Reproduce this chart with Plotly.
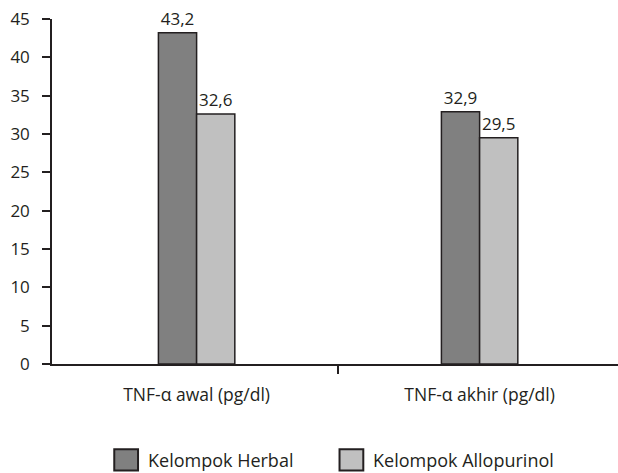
import plotly.graph_objects as go

categories = ["TNF-α awal (pg/dl)", "TNF-α akhir (pg/dl)"]
herbal = [43.2, 32.9]
allopurinol = [32.6, 29.5]
series_names = ["Kelompok Herbal", "Kelompok Allopurinol"]
series_colors = ["#808080", "#c0c0c0"]
y_ticks = [0, 5, 10, 15, 20, 25, 30, 35, 40, 45]

ink = "#231f20"
font = "Open Sans, Noto Sans, sans-serif"
fs = 17

xpos = list(range(len(categories)))

fig = go.Figure()
for name, vals, col in zip(series_names, [herbal, allopurinol], series_colors):
    fig.add_trace(go.Bar(x=xpos, y=vals, name=name,
                         marker=dict(color=col, line=dict(color=ink, width=1.5)),
                         texttemplate="%{y:.1f}", textposition="outside",
                         textfont=dict(size=fs, color=ink), cliponaxis=False))

# legend drawn as paper-space swatches + labels (large squares like the reference)
legend_x = [0.110, 0.508]   # paper fractions for the swatch left edges
for name, col, lx in zip(series_names, series_colors, legend_x):
    fig.add_shape(type="rect", xref="paper", yref="paper",
                  x0=lx, x1=lx + 0.042, y0=-0.309, y1=-0.247,
                  fillcolor=col, line=dict(color=ink, width=2))
    fig.add_annotation(xref="paper", yref="paper", x=lx + 0.056, y=-0.278,
                       xanchor="left", yanchor="middle", text=name, showarrow=False,
                       font=dict(size=18, color=ink, family=font))

fig.update_layout(
    width=618, height=473,
    margin=dict(l=52, r=0, t=19, b=109),
    paper_bgcolor="white", plot_bgcolor="white",
    barmode="group", bargap=0.73, bargroupgap=0,
    separators=",.",
    font=dict(family=font, size=fs, color=ink),
    showlegend=False,
    xaxis=dict(range=[-0.511, 1.489], tickvals=xpos, ticktext=categories, ticks="",
               minor=dict(tickvals=[0.5], ticks="outside", ticklen=8, tickcolor=ink, tickwidth=1.5),
               showline=True, linecolor=ink, linewidth=1.5, showgrid=False, zeroline=False,
               ticklabelstandoff=14, tickfont=dict(size=17.5, color=ink)),
    yaxis=dict(range=[0, 45], tickvals=y_ticks, showline=True, linecolor=ink, linewidth=1.5,
               ticks="outside", ticklen=8, tickcolor=ink, tickwidth=1.5,
               showgrid=False, zeroline=False, ticklabelstandoff=9,
               tickfont=dict(size=fs, color=ink)),
)

fig.write_html("out.html", config={"displayModeBar": False},
               post_script="document.body.style.margin='0';document.body.style.overflow='hidden';")
